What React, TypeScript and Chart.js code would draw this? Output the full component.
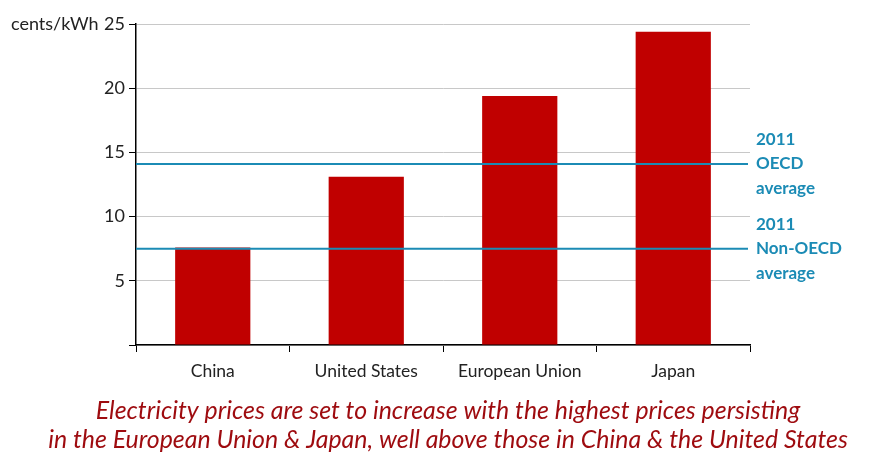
import React, { useEffect, useRef } from "react";
import { Chart, registerables } from "chart.js";

Chart.register(...registerables);

const categories = ["China", "United States", "European Union", "Japan"];
const prices = [7.6, 13.1, 19.4, 24.4];
const yTicks = [0, 5, 10, 15, 20, 25];
const averageValues = [14.1, 7.5];
const averageLabels = [
  ["2011", "OECD", "average"],
  ["2011", "Non-OECD", "average"],
];
const unitLabel = "cents/kWh";
const caption = [
  "Electricity prices are set to increase with the highest prices persisting",
  "in the European Union & Japan, well above those in China & the United States",
];

const FONT = "Lato, 'Open Sans', sans-serif";
const BLUE = "#1b8bb5";

const overlayPlugin = {
  id: "overlay",
  afterDatasetsDraw(chart: any) {
    const { ctx, chartArea, scales } = chart;
    const y = scales.y;
    ctx.save();
    averageValues.forEach((v, i) => {
      const py = y.getPixelForValue(v);
      ctx.strokeStyle = BLUE;
      ctx.lineWidth = 2;
      ctx.beginPath();
      ctx.moveTo(chartArea.left, py);
      ctx.lineTo(chartArea.right - 2, py);
      ctx.stroke();
      ctx.fillStyle = BLUE;
      ctx.font = `bold 17px ${FONT}`;
      ctx.textAlign = "left";
      ctx.textBaseline = "middle";
      const lines = averageLabels[i];
      lines.forEach((t, j) => {
        ctx.fillText(t, chartArea.right + 6, py + (j - 1) * 24.5);
      });
    });
    ctx.fillStyle = "#222";
    ctx.font = `18px ${FONT}`;
    ctx.textAlign = "left";
    ctx.textBaseline = "middle";
    ctx.fillText(unitLabel, 11, y.getPixelForValue(25));

    // caption
    ctx.fillStyle = "#9e0b0f";
    ctx.textAlign = "center";
    let size = 22;
    ctx.font = `italic ${size}px ${FONT}`;
    const w = ctx.measureText(caption[1]).width;
    size = (size * 800) / w;
    ctx.font = `italic ${size}px ${FONT}`;
    const cx = 448;
    ctx.fillText(caption[0], cx, 411);
    ctx.fillText(caption[1], cx, 440);
    ctx.restore();
  },
};

export default function App() {
  const ref = useRef<HTMLCanvasElement>(null);
  useEffect(() => {
    const chart = new Chart(ref.current!, {
      type: "bar",
      data: {
        labels: categories,
        datasets: [
          {
            data: prices,
            backgroundColor: "#c00000",
            barPercentage: 0.49,
            categoryPercentage: 1,
          },
        ],
      },
      options: {
        animation: false,
        responsive: false,
        layout: { padding: { left: 0, right: 140, top: 24, bottom: 74 } },
        plugins: {
          legend: { display: false },
          tooltip: { enabled: false },
          title: { display: false },
        },
        scales: {
          x: {
            grid: { drawOnChartArea: false, drawTicks: true, tickLength: 7, color: "#000", offset: true },
            border: { color: "#000", width: 1.5 },
            ticks: { color: "#222", font: { family: FONT, size: 17.5 }, padding: 9 },
            afterFit(scale: any) {
              scale.height = 40;
            },
          },
          y: {
            min: 0,
            max: 25,
            afterBuildTicks(scale: any) {
              scale.ticks = yTicks.map((v) => ({ value: v }));
            },
            grid: { color: "#c8c8c8", tickColor: "#000", tickLength: 7, lineWidth: 1 },
            border: { color: "#000", width: 1.5 },
            ticks: {
              color: "#222",
              font: { family: FONT, size: 18 },
              padding: 4,
              callback: (v: any) => (v === 0 ? "" : String(v)),
            },
            afterFit(scale: any) {
              scale.width = 136;
            },
          },
        },
      },
      plugins: [overlayPlugin],
    });
    return () => chart.destroy();
  }, []);
  return (
    <div style={{ position: "fixed", left: 0, top: 0, width: 890, height: 459, background: "#fff" }}>
      <canvas ref={ref} width={890} height={459} />
    </div>
  );
}
